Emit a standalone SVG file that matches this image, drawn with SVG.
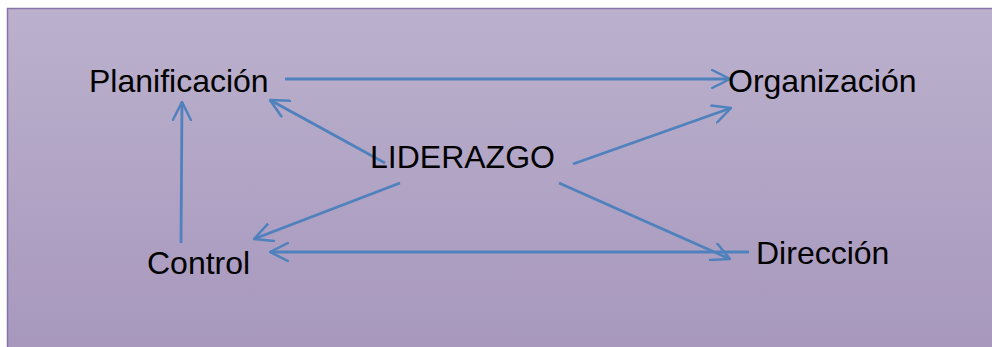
<svg xmlns="http://www.w3.org/2000/svg" width="992" height="347" viewBox="0 0 992 347">
  <defs>
    <linearGradient id="bg" x1="0" y1="0" x2="0" y2="1">
      <stop offset="0" stop-color="#bbb1cd"/>
      <stop offset="1" stop-color="#a797bd"/>
    </linearGradient>
    <marker id="head" viewBox="0 0 20 20" refX="19" refY="10" markerWidth="20" markerHeight="20" markerUnits="userSpaceOnUse" orient="auto">
      <path d="M1,1 L19,10 L1,19" fill="none" stroke="#4f81bd" stroke-width="2.5" stroke-linecap="round" stroke-linejoin="round"/>
    </marker>
    <style>
      .label { font-family: "Liberation Sans", Arial, sans-serif; font-size: 32px; fill: #000; }
      .edge { fill: none; stroke: #4f81bd; stroke-width: 2.8; marker-end: url(#head); }
    </style>
  </defs>

  <rect x="0" y="0" width="992" height="347" fill="#ffffff"/>
  <rect x="7.5" y="8.5" width="990" height="345" fill="url(#bg)" stroke="#8673a9" stroke-width="1.5"/>

  <g id="connectors">
    <line class="edge" x1="285" y1="79" x2="730" y2="79"/>
    <line class="edge" x1="385" y1="163" x2="270" y2="100"/>
    <line class="edge" x1="400" y1="183" x2="254" y2="239"/>
    <line class="edge" x1="181" y1="243" x2="182" y2="102"/>
    <line class="edge" x1="749" y1="252" x2="270" y2="252"/>
    <line class="edge" x1="573" y1="164" x2="731" y2="108"/>
    <line class="edge" x1="559" y1="183" x2="730" y2="259"/>
  </g>

  <g id="planificacion"><text class="label" x="89" y="92">Planificación</text></g>
  <g id="organizacion"><text class="label" x="728" y="92">Organización</text></g>
  <g id="liderazgo"><text class="label" x="370" y="168">LIDERAZGO</text></g>
  <g id="control"><text class="label" x="147" y="274">Control</text></g>
  <g id="direccion"><text class="label" x="756" y="264">Dirección</text></g>
</svg>
